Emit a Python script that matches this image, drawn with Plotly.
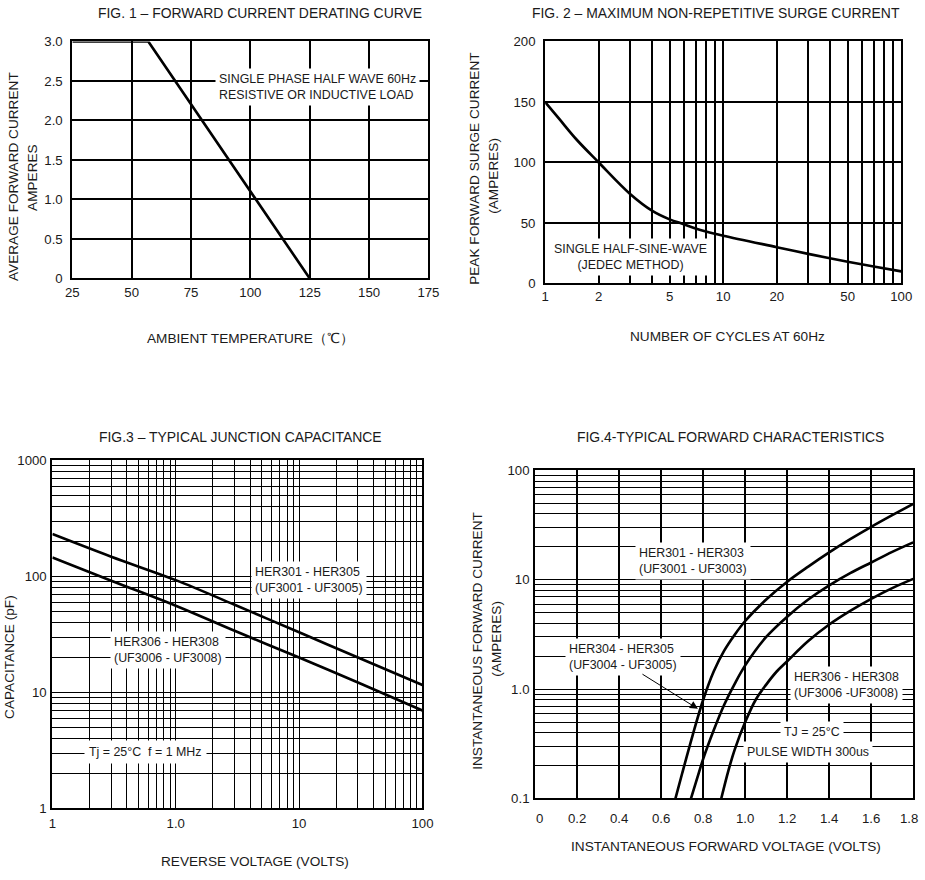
import math
import plotly.graph_objects as go

W, H = 925, 880
FONT = "Liberation Sans, Arial, sans-serif"
TXT = "#1a1a1a"

# ---------------- data ----------------
# Fig 1 forward current derating
fig1_temp = [25, 57, 125]
fig1_amps = [3.0, 3.0, 0.0]
fig1_xticks = [25, 50, 75, 100, 125, 150, 175]
fig1_yticks = [0, 0.5, 1.0, 1.5, 2.0, 2.5, 3.0]
fig1_ytext = ["0", "0.5", "1.0", "1.5", "2.0", "2.5", "3.0"]

# Fig 2 surge current
fig2_cycles = [1, 1.2, 1.5, 2, 3, 4, 5, 6, 7, 8, 10, 20, 30, 50, 70, 100]
fig2_amps = [150, 136, 119, 100, 74, 60, 53, 49, 45.5, 43, 39.5, 30, 24.5, 18, 14, 10]
fig2_xgrid = [1, 2, 3, 4, 5, 6, 7, 8, 9, 10, 20, 30, 40, 50, 60, 70, 80, 90, 100]
fig2_xlabels = {1: "1", 2: "2", 5: "5", 10: "10", 20: "20", 50: "50", 100: "100"}
fig2_yticks = [0, 50, 100, 150, 200]

# Fig 3 junction capacitance
fig3_volts = [0.1, 0.3, 1, 3, 10, 30, 100]
fig3_her301_305 = [232, 148, 93, 57, 33, 20, 11.6]
fig3_her306_308 = [146, 92, 56, 34, 20, 12.2, 7.0]
fig3_xlabels = {0.1: "1", 1: "1.0", 10: "10", 100: "100"}
fig3_ylabels = {1: "1", 10: "10", 100: "100", 1000: "1000"}

# Fig 4 forward characteristics
fig4_v_a = [0.668, 0.70, 0.75, 0.80, 0.85, 0.90, 0.95, 1.0, 1.1, 1.2, 1.3, 1.4, 1.5, 1.6, 1.7, 1.8]
fig4_i_a = [0.1, 0.17, 0.38, 0.80, 1.45, 2.25, 3.15, 4.2, 6.6, 9.6, 13.2, 17.8, 23.5, 30.5, 39, 49.5]
fig4_v_b = [0.742, 0.77, 0.80, 0.85, 0.90, 0.95, 1.0, 1.1, 1.2, 1.3, 1.4, 1.5, 1.6, 1.7, 1.8]
fig4_i_b = [0.1, 0.15, 0.23, 0.42, 0.72, 1.12, 1.65, 3.0, 4.6, 6.6, 8.9, 11.5, 14.4, 18, 22]
fig4_v_c = [0.886, 0.92, 0.95, 1.0, 1.05, 1.1, 1.15, 1.2, 1.3, 1.4, 1.5, 1.6, 1.7, 1.8]
fig4_i_c = [0.1, 0.18, 0.28, 0.5, 0.8, 1.1, 1.45, 1.8, 2.75, 3.9, 5.2, 6.7, 8.4, 10.2]
fig4_xticks = [0, 0.2, 0.4, 0.6, 0.8, 1.0, 1.2, 1.4, 1.6, 1.8]
fig4_xtext = ["0", "0.2", "0.4", "0.6", "0.8", "1.0", "1.2", "1.4", "1.6", "1.8"]
fig4_ylabels = {0.1: "0.1", 1: "1.0", 10: "10", 100: "100"}

# The captured picture is slightly scaled/offset relative to page pixels;
# layout positions below are given in picture pixels and converted here.
SC, OFF = 0.983, 6.5


def D(r):
    return (r - OFF) / SC


def fs(s):
    return s / SC


def decade_grid(lo_exp, hi_exp):
    vals = []
    for e in range(lo_exp, hi_exp):
        for m in range(1, 10):
            vals.append(round(m * 10 ** e, 6))
    vals.append(round(10 ** hi_exp, 6))
    return vals


def px(x, y):
    return D(x) / W, 1 - D(y) / H


def domx(a, b):
    return [D(a) / W, D(b) / W]


def domy(a, b):
    return [1 - D(b) / H, 1 - D(a) / H]


fig = go.Figure()
line_style = dict(color="black", width=fs(2.6))

fig.add_trace(go.Scatter(x=fig1_temp, y=fig1_amps, mode="lines", line=line_style,
                         xaxis="x", yaxis="y", showlegend=False, hoverinfo="skip"))
fig.add_trace(go.Scatter(x=fig2_cycles, y=fig2_amps, mode="lines", line_shape="spline",
                         line=line_style, xaxis="x2", yaxis="y2", showlegend=False))
fig.add_trace(go.Scatter(x=fig3_volts, y=fig3_her301_305, mode="lines", line_shape="spline",
                         line=line_style, xaxis="x3", yaxis="y3", showlegend=False))
fig.add_trace(go.Scatter(x=fig3_volts, y=fig3_her306_308, mode="lines", line_shape="spline",
                         line=line_style, xaxis="x3", yaxis="y3", showlegend=False))
for v, i in [(fig4_v_a, fig4_i_a), (fig4_v_b, fig4_i_b), (fig4_v_c, fig4_i_c)]:
    fig.add_trace(go.Scatter(x=v, y=i, mode="lines", line_shape="spline", line=line_style,
                             xaxis="x4", yaxis="y4", showlegend=False))

tickfont = dict(family=FONT, size=fs(13), color=TXT)
base = dict(showline=True, linecolor="black", linewidth=fs(2), mirror=True,
            showgrid=True, gridcolor="black", gridwidth=fs(1.6), zeroline=False,
            ticks="", tickfont=tickfont, fixedrange=True)

fig3_xgrid = decade_grid(-1, 2)
fig3_ygrid = decade_grid(0, 3)
fig4_ygrid = decade_grid(-1, 2)

fig.update_layout(
    width=W, height=H, autosize=False,
    margin=dict(l=0, r=0, t=0, b=0),
    paper_bgcolor="white", plot_bgcolor="white",
    font=dict(family=FONT, color=TXT),
    xaxis=dict(base, domain=domx(72, 429), range=[25, 175], tickvals=fig1_xticks,
               ticklabelstandoff=1, anchor="y"),
    yaxis=dict(base, domain=domy(41, 278), range=[0, 3], tickvals=fig1_yticks,
               ticktext=fig1_ytext, ticklabelstandoff=5, anchor="x"),
    xaxis2=dict(base, domain=domx(546, 903), type="log", range=[0, 2], tickvals=fig2_xgrid,
                ticktext=[fig2_xlabels.get(v, "") for v in fig2_xgrid], ticklabelstandoff=0,
                anchor="y2"),
    yaxis2=dict(base, domain=domy(41, 283), range=[0, 200], tickvals=fig2_yticks,
                ticklabelstandoff=5, anchor="x2"),
    xaxis3=dict(base, domain=domx(52, 423), type="log", range=[-1, 2], tickvals=fig3_xgrid,
                ticktext=[fig3_xlabels.get(v, "") for v in fig3_xgrid], ticklabelstandoff=2,
                gridwidth=fs(1.4), anchor="y3"),
    yaxis3=dict(base, domain=domy(460, 808), type="log", range=[0, 3], tickvals=fig3_ygrid,
                ticktext=[fig3_ylabels.get(v, "") for v in fig3_ygrid], ticklabelstandoff=1,
                gridwidth=fs(1.4), anchor="x3"),
    xaxis4=dict(base, domain=domx(536, 915), range=[0, 1.8], tickvals=fig4_xticks,
                showticklabels=False, anchor="y4"),
    yaxis4=dict(base, domain=domy(470, 798), type="log", range=[-1, 2], tickvals=fig4_ygrid,
                ticktext=[fig4_ylabels.get(v, "") for v in fig4_ygrid], ticklabelstandoff=1,
                gridwidth=fs(1.4), anchor="x4"),
)

annotations = []


def text_at(x, y, text, size=12.2, rot=0, xanchor="center", align="center", bg=None, pad=0):
    xx, yy = px(x, y)
    a = dict(x=xx, y=yy, xref="paper", yref="paper", text=text, showarrow=False,
             xanchor=xanchor, yanchor="middle", align=align, textangle=rot,
             font=dict(family=FONT, size=fs(size), color=TXT))
    if bg:
        a.update(bgcolor=bg, borderpad=pad)
    annotations.append(a)


# titles
TS = 13.7
text_at(260, 13, "FIG. 1 – FORWARD CURRENT DERATING CURVE", TS)
text_at(717, 13, "FIG. 2 – MAXIMUM NON-REPETITIVE SURGE CURRENT", TS)
text_at(241, 437, "FIG.3 – TYPICAL JUNCTION CAPACITANCE", TS)
text_at(732, 437, "FIG.4-TYPICAL FORWARD CHARACTERISTICS", TS)

# axis titles
AS = 13.4
text_at(251, 338, "AMBIENT TEMPERATURE（℃）", AS)
text_at(729, 336, "NUMBER OF CYCLES AT 60Hz", AS)
text_at(255, 861, "REVERSE VOLTAGE (VOLTS)", AS)
text_at(727, 846, "INSTANTANEOUS FORWARD VOLTAGE (VOLTS)", AS)
text_at(13, 176, "AVERAGE FORWARD CURRENT", AS, rot=-90)
text_at(32, 177, "AMPERES", AS, rot=-90)
text_at(475, 168, "PEAK FORWARD SURGE CURRENT", AS, rot=-90)
text_at(494, 175, "(AMPERES)", AS, rot=-90)
text_at(9, 656, "CAPACITANCE (pF)", AS, rot=-90)
text_at(478, 640, "INSTANTANEOUS FORWARD CURRENT", AS, rot=-90)
text_at(497, 638, "(AMPERES)", AS, rot=-90)

# fig 4 x tick labels (placed on the axis scale)
for v, t in zip(fig4_xticks, fig4_xtext):
    shift = 4 if v == 0 else (-4 if v == fig4_xticks[-1] else 0)
    annotations.append(dict(x=v, y=1 - D(818) / H, xref="x4", yref="paper", text=t,
                            showarrow=False, xanchor="center", yanchor="middle", xshift=shift,
                            font=dict(family=FONT, size=fs(13), color=TXT)))

# in-plot labels
text_at(215, 87, "SINGLE PHASE HALF WAVE 60Hz<br>RESISTIVE OR INDUCTIVE LOAD",
        xanchor="left", align="left", bg="white", pad=3)
text_at(632, 257, "SINGLE HALF-SINE-WAVE<br>(JEDEC METHOD)", bg="white", pad=3)
text_at(251, 580, "HER301 - HER305<br>(UF3001 - UF3005)", xanchor="left", align="left",
        bg="white", pad=3)
text_at(110, 650, "HER306 - HER308<br>(UF3006 - UF3008)", xanchor="left", align="left",
        bg="white", pad=3)
text_at(145, 752, "Tj = 25°C  f = 1 MHz", bg="white", pad=4)
text_at(636, 561, "HER301 - HER303<br>(UF3001 - UF3003)", xanchor="left", align="left",
        bg="white", pad=3)
text_at(566, 657, "HER304 - HER305<br>(UF3004 - UF3005)", xanchor="left", align="left",
        bg="white", pad=3)
text_at(791, 685, "HER306 - HER308<br>(UF3006 -UF3008)", xanchor="left", align="left",
        bg="white", pad=3)
text_at(814, 732, "TJ = 25°C", bg="white", pad=3)
text_at(810, 752, "PULSE WIDTH 300us", bg="white", pad=3)

# arrow in fig 4
annotations.append(dict(x=0.775, y=math.log10(0.66), xref="x4", yref="y4", text="",
                        showarrow=True, arrowhead=2, arrowsize=1.6, arrowwidth=1,
                        arrowcolor="black", ax=-56 / SC, ay=-35 / SC))

fig.update_layout(annotations=annotations)
fig.write_html("out.html", config={"displayModeBar": False},
               post_script="document.body.style.margin='0';document.body.style.overflow='hidden';")
